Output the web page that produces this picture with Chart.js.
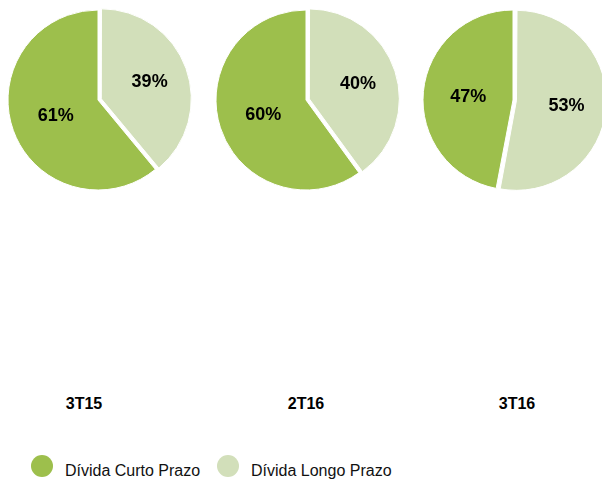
<!DOCTYPE html>
<html>
<head>
<meta charset="utf-8">
<script src="https://cdn.jsdelivr.net/npm/chart.js@4.4.0/dist/chart.umd.min.js"></script>
<style>
  body { margin: 0; width: 602px; height: 479px; overflow: hidden; position: relative; background: #fff;
         font-family: "Liberation Sans", Arial, sans-serif; }
  .pie { position: absolute; top: 0; width: 200px; height: 200px; }
  .cat { position: absolute; top: 395px; width: 120px; text-align: center; font-weight: bold; font-size: 16px; color: #000; }
  .legend { position: absolute; top: 455px; left: 31px; font-size: 16px; color: #111; }
  .legend span.item { position: absolute; top: 0; white-space: nowrap; }
  .legend i { display: inline-block; width: 22px; height: 22px; border-radius: 50%; vertical-align: top; }
  .legend b { font-weight: normal; position: relative; top: 7px; }
</style>
</head>
<body>
<canvas id="pie0" class="pie" style="left:-2px"></canvas>
<canvas id="pie1" class="pie" style="left:206px"></canvas>
<canvas id="pie2" class="pie" style="left:413px"></canvas>
<div id="cats"></div>
<div class="legend" id="legend"></div>
<script>
const periods = ['3T15', '2T16', '3T16'];
const seriesNames = ['Dívida Curto Prazo', 'Dívida Longo Prazo'];
const curtoPrazo = [61, 60, 47];
const longoPrazo = [39, 40, 53];
const colors = ['#9DBF4C', '#D2DFBA'];

// chart.js also grows an offset arc's radius; undo that so the pulled-out slice keeps its size
const keepRadius = {
    id: 'keepRadius',
    afterUpdate(chart) {
        chart.getDatasetMeta(0).data.forEach(arc => {
            const off = (arc.options.offset || 0) / 4;
            const fix = 1 - Math.sin(Math.min(Math.PI, arc.circumference || 0));
            arc.outerRadius -= off * fix;
        });
    }
};

// percent labels inside the slices
const pctLabels = {
    id: 'pctLabels',
    afterDatasetsDraw(chart) {
        const ctx = chart.ctx;
        const meta = chart.getDatasetMeta(0);
        const data = chart.data.datasets[0].data;
        ctx.save();
        ctx.font = 'bold 18px "Liberation Sans", Arial, sans-serif';
        ctx.fillStyle = '#000';
        ctx.textAlign = 'center';
        ctx.textBaseline = 'middle';
        meta.data.forEach((arc, i) => {
            const p = arc.tooltipPosition();
            const mid = (arc.startAngle + arc.endAngle) / 2;
            const off = (arc.options.offset || 0) / 4;
            ctx.fillText(data[i] + '%', p.x + Math.cos(mid) * off, p.y + Math.sin(mid) * off + 1);
        });
        ctx.restore();
    }
};

const catCenters = [84, 306, 517];

periods.forEach((p, k) => {
    new Chart(document.getElementById('pie' + k), {
        type: 'pie',
        data: {
            labels: seriesNames,
            datasets: [{
                data: [curtoPrazo[k], longoPrazo[k]],
                backgroundColor: colors,
                borderColor: '#fff',
                borderWidth: 1,
                offset: [0, 14]
            }]
        },
        options: {
            responsive: false,
            animation: false,
            radius: 90,
            rotation: -curtoPrazo[k] * 3.6,
            layout: { padding: 0 },
            plugins: {
                legend: { display: false },
                tooltip: { enabled: false }
            }
        },
        plugins: [keepRadius, pctLabels]
    });

    const d = document.createElement('div');
    d.className = 'cat';
    d.style.left = (catCenters[k] - 60) + 'px';
    d.textContent = p;
    document.getElementById('cats').appendChild(d);
});

const legendX = [0, 186];
seriesNames.forEach((name, i) => {
    const s = document.createElement('span');
    s.className = 'item';
    s.style.left = legendX[i] + 'px';
    s.innerHTML = '<i style="background:' + colors[i] + '"></i><b style="margin-left:12px"></b>';
    s.querySelector('b').textContent = name;
    document.getElementById('legend').appendChild(s);
});
</script>
</body>
</html>
